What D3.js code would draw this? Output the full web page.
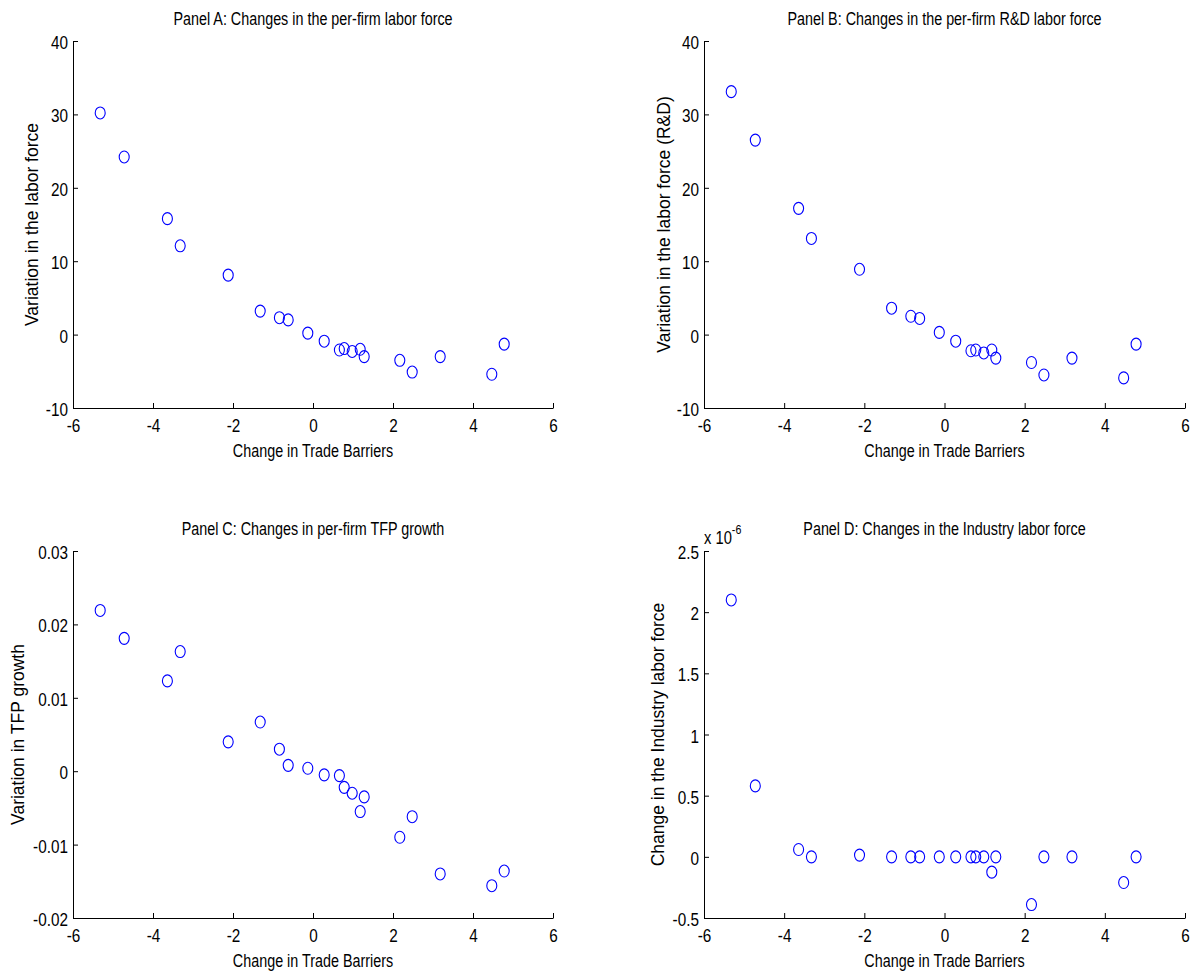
<!DOCTYPE html>
<html>
<head>
<meta charset="utf-8">
<script src="https://cdn.jsdelivr.net/npm/d3@7"></script>
<style>
  body { margin: 0; background: #fff; }
  text { font-family: "Liberation Sans", Arial, Helvetica, sans-serif; fill: #000; }
  .tick text { font-size: 18px; }
</style>
</head>
<body>
<div id="chart"></div>
<script>
// Change in trade barriers (shared x values)
var tradeChange = [-5.32, -4.72, -3.64, -3.32, -2.12, -1.32, -0.84, -0.62, -0.13, 0.28,
                   0.66, 0.78, 0.98, 1.18, 1.28, 2.17, 2.48, 3.18, 4.47, 4.78];

// Panel A: per-firm labor force
var laborForce = [30.2, 24.2, 15.8, 12.1, 8.1, 3.2, 2.3, 2.0, 0.2, -0.9,
                  -2.1, -1.9, -2.3, -2.0, -3.0, -3.5, -5.1, -3.0, -5.4, -1.3];

// Panel B: per-firm R&D labor force
var rdLaborForce = [33.1, 26.5, 17.2, 13.1, 8.9, 3.6, 2.5, 2.2, 0.3, -0.9,
                    -2.2, -2.1, -2.5, -2.1, -3.2, -3.8, -5.5, -3.2, -5.9, -1.3];

// Panel C: per-firm TFP growth
var tfpGrowth = [0.0219, 0.0181, 0.0123, 0.0163, 0.0040, 0.0067, 0.0030, 0.0008, 0.0004, -0.0005,
                 -0.0006, -0.0022, -0.0030, -0.0055, -0.0035, -0.0090, -0.0062, -0.0140, -0.0156, -0.0136];

// Panel D: industry labor force (x 10^-6)
var industryLabor = [2.10e-6, 0.58e-6, 0.06e-6, 0.0, 0.014e-6, 0.0, 0.0, 0.0, 0.0, 0.0,
                     0.0, 0.0, 0.0, -0.125e-6, 0.0, -0.39e-6, 0.0, 0.0, -0.21e-6, 0.0];

// tick values
var xTicks = [-6, -4, -2, 0, 2, 4, 6];
var laborTicks = [-10, 0, 10, 20, 30, 40];
var tfpTicks = [-0.02, -0.01, 0, 0.01, 0.02, 0.03];
var industryTicks = [-0.5, 0, 0.5, 1, 1.5, 2, 2.5];

// the original uses a condensed Helvetica; squeeze Liberation Sans to look like it
var narrow = 0.82;

var svg = d3.select("#chart").append("svg")
    .attr("width", 1192)
    .attr("height", 972);

function drawPanel(p) {
    var x = d3.scaleLinear().domain([-6, 6]).range([p.left, p.right]);
    var y = d3.scaleLinear().domain(p.yDomain).range([p.bottom, p.top]);

    var g = svg.append("g");

    g.append("g")
        .attr("transform", `translate(0, ${p.bottom})`)
        .call(d3.axisBottom(x).tickValues(xTicks).tickSizeInner(-5).tickSizeOuter(0)
            .tickPadding(11).tickFormat(d => String(d)));

    var yAxis = g.append("g")
        .attr("transform", `translate(${p.left}, 0)`)
        .call(d3.axisLeft(y).tickValues(p.yTicks).tickSizeInner(-5).tickSizeOuter(0)
            .tickPadding(6).tickFormat(p.yFormat));

    g.selectAll(".domain, .tick line").attr("stroke", "#000");
    g.selectAll(".tick text").attr("transform", "scale(0.85,1)");
    yAxis.selectAll(".tick text").attr("dy", "0.42em");

    g.selectAll("ellipse")
        .data(p.values)
        .enter()
        .append("ellipse")
        .attr("cx", (d, i) => x(tradeChange[i]))
        .attr("cy", d => y(d))
        .attr("rx", 5)
        .attr("ry", 6)
        .attr("fill", "none")
        .attr("stroke", "#0000ff")
        .attr("stroke-width", 1.1);

    g.append("text")
        .attr("transform", `translate(${(p.left + p.right) / 2}, ${p.top - 16}) scale(${narrow},1)`)
        .attr("text-anchor", "middle")
        .attr("font-size", "17.5px")
        .text(p.title);

    g.append("text")
        .attr("transform", `translate(${(p.left + p.right) / 2}, ${p.bottom + 49}) scale(${narrow},1)`)
        .attr("text-anchor", "middle")
        .attr("font-size", "17.5px")
        .text("Change in Trade Barriers");

    g.append("text")
        .attr("transform", `translate(${p.ylabelX}, ${(p.top + p.bottom) / 2}) rotate(-90)`)
        .attr("dy", "0.35em")
        .attr("text-anchor", "middle")
        .attr("font-size", "17.5px")
        .text(p.ylabel);

    return g;
}

drawPanel({
    left: 73, right: 553, top: 41, bottom: 408,
    yDomain: [-10, 40], yTicks: laborTicks, yFormat: d => String(d),
    values: laborForce,
    title: "Panel A: Changes in the per-firm labor force",
    ylabel: "Variation in the labor force", ylabelX: 32
});

drawPanel({
    left: 704, right: 1185, top: 41, bottom: 408,
    yDomain: [-10, 40], yTicks: laborTicks, yFormat: d => String(d),
    values: rdLaborForce,
    title: "Panel B: Changes in the per-firm R&D labor force",
    ylabel: "Variation in the labor force (R&D)", ylabelX: 664
});

drawPanel({
    left: 73, right: 553, top: 551, bottom: 918,
    yDomain: [-0.02, 0.03], yTicks: tfpTicks, yFormat: d => String(d),
    values: tfpGrowth,
    title: "Panel C: Changes in per-firm TFP growth",
    ylabel: "Variation in TFP growth", ylabelX: 18
});

var panelD = drawPanel({
    left: 704, right: 1185, top: 551, bottom: 918,
    yDomain: [-0.5e-6, 2.5e-6], yTicks: industryTicks.map(t => t * 1e-6),
    yFormat: (d, i) => String(industryTicks[i]),
    values: industryLabor,
    title: "Panel D: Changes in the Industry labor force",
    ylabel: "Change in the Industry labor force", ylabelX: 658
});

// exponent label
var expo = panelD.append("text")
    .attr("transform", `translate(704, 544) scale(${narrow},1)`)
    .attr("font-size", "18px")
    .text("x 10");
expo.append("tspan")
    .attr("dy", "-10")
    .attr("font-size", "13px")
    .text("-6");
</script>
</body>
</html>
